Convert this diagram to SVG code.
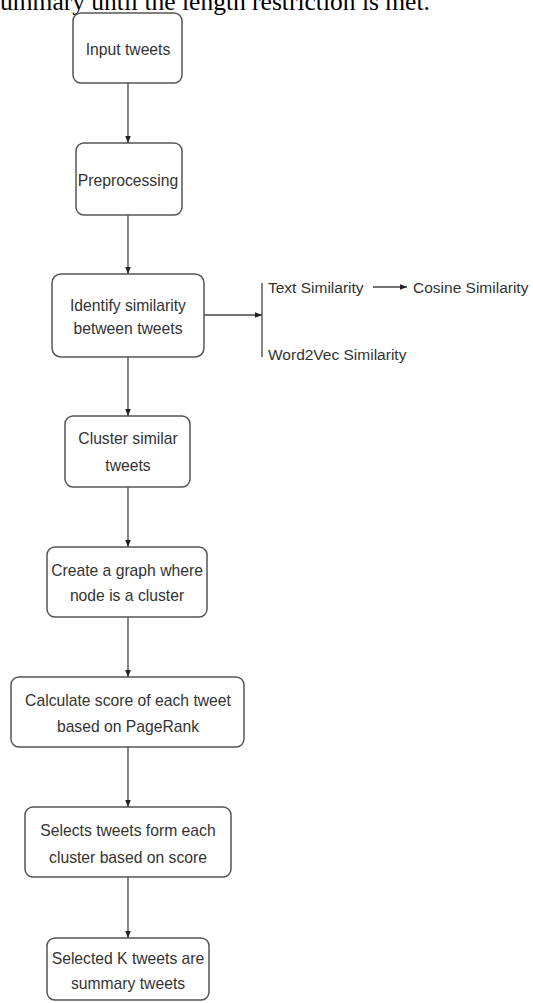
<svg xmlns="http://www.w3.org/2000/svg" width="533" height="1003" viewBox="0 0 533 1003">
<style>
.box{fill:#fff;stroke:#555;stroke-width:1.5}
.t{font-family:"Liberation Sans",Arial,sans-serif;font-size:15.7px;fill:#333;text-anchor:middle;dominant-baseline:central}
.tl{font-family:"Liberation Sans",Arial,sans-serif;font-size:15.5px;fill:#333;dominant-baseline:central}
.e{stroke:#444;stroke-width:1.3;fill:none}
</style>
<defs>
<marker id="ah" viewBox="0 0 10 10" refX="10" refY="5" markerWidth="7" markerHeight="7" orient="auto" markerUnits="userSpaceOnUse">
<path d="M0,1 L10,5 L0,9 Z" fill="#222"/>
</marker>
</defs>
<rect width="533" height="1003" fill="#fff"/>
<text x="0" y="10" font-family="'Liberation Serif','Times New Roman',serif" font-size="25.5" fill="#000">ummary until the length restriction is met.</text>
<g id="connectors">
<line class="e" x1="128" y1="83" x2="128" y2="143" marker-end="url(#ah)"/>
<line class="e" x1="128" y1="215" x2="128" y2="274" marker-end="url(#ah)"/>
<line class="e" x1="128" y1="357" x2="128" y2="416" marker-end="url(#ah)"/>
<line class="e" x1="128" y1="487" x2="128" y2="547" marker-end="url(#ah)"/>
<line class="e" x1="128" y1="617" x2="128" y2="677" marker-end="url(#ah)"/>
<line class="e" x1="128" y1="747" x2="128" y2="807" marker-end="url(#ah)"/>
<line class="e" x1="128" y1="877" x2="128" y2="938" marker-end="url(#ah)"/>
<line class="e" x1="204" y1="315" x2="262" y2="315" marker-end="url(#ah)"/>
<line class="e" x1="262" y1="283" x2="262" y2="357"/>
<line class="e" x1="373" y1="287" x2="407" y2="287" marker-end="url(#ah)"/>
</g>
<g id="n1"><rect class="box" x="73" y="13" width="109" height="70" rx="8"/><text class="t" x="128" y="49">Input tweets</text></g>
<g id="n2"><rect class="box" x="76" y="143" width="106" height="72" rx="8"/><text class="t" x="128" y="180">Preprocessing</text></g>
<g id="n3"><rect class="box" x="52" y="274" width="152" height="83" rx="9"/><text class="t" x="128" y="305">Identify similarity</text><text class="t" x="128" y="328">between tweets</text></g>
<g id="n4"><rect class="box" x="65" y="416" width="125" height="71" rx="8"/><text class="t" x="128" y="438">Cluster similar</text><text class="t" x="128" y="465">tweets</text></g>
<g id="n5"><rect class="box" x="47" y="547" width="160" height="70" rx="8"/><text class="t" x="127" y="570">Create a graph where</text><text class="t" x="127" y="595">node is a cluster</text></g>
<g id="n6"><rect class="box" x="11" y="677" width="233" height="70" rx="8"/><text class="t" x="128" y="700">Calculate score of each tweet</text><text class="t" x="128" y="726">based on PageRank</text></g>
<g id="n7"><rect class="box" x="25" y="807" width="206" height="70" rx="8"/><text class="t" x="128" y="830">Selects tweets form each</text><text class="t" x="128" y="857">cluster based on score</text></g>
<g id="n8"><rect class="box" x="47" y="938" width="162" height="62" rx="8"/><text class="t" x="128" y="958">Selected K tweets are</text><text class="t" x="128" y="983">summary tweets</text></g>
<g id="n9"><text class="tl" x="268" y="287">Text Similarity</text></g>
<g id="n10"><text class="tl" x="413" y="287">Cosine Similarity</text></g>
<g id="n11"><text class="tl" x="268" y="354">Word2Vec Similarity</text></g>
</svg>
